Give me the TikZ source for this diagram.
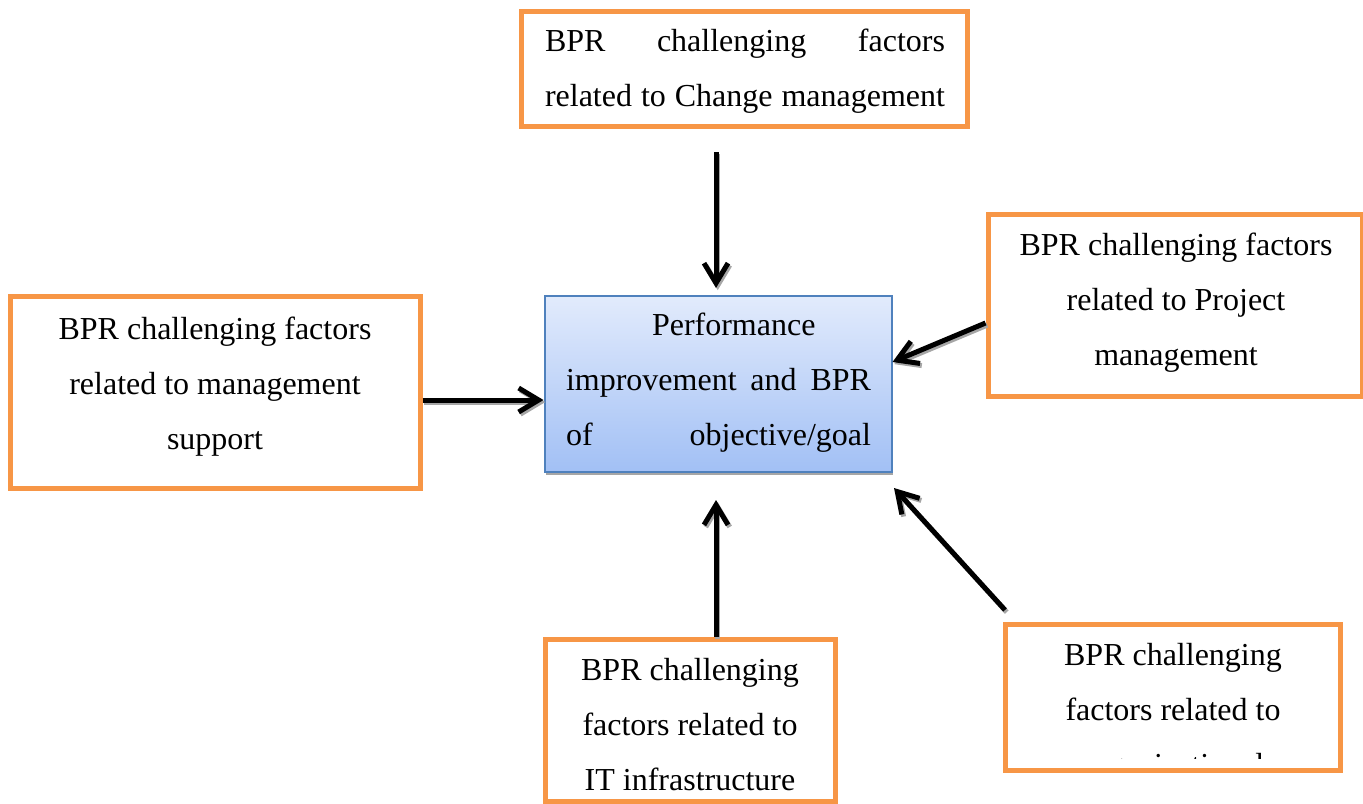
\documentclass[tikz,border=0pt]{standalone}
\usepackage{fontspec}
\setmainfont{Liberation Serif}
\usetikzlibrary{arrows.meta,fit}
\definecolor{orng}{HTML}{F79646}
\definecolor{bord}{HTML}{4F81BD}
\definecolor{ctop}{RGB}{226,235,252}
\definecolor{cbot}{RGB}{162,192,245}
\tikzset{
  obox/.style={draw=orng, line width=3.75pt, fill=white, inner sep=0pt},
  cbox/.style={draw=bord, line width=1.5pt, top color=ctop, bottom color=cbot, inner sep=0pt},
  txt/.style={anchor=base, inner sep=0pt, font=\fontsize{24pt}{41.25pt}\selectfont},
  arr/.style={line width=3.75pt, -{Straight Barb[length=15pt,width=18pt]}},
  arrshadow/.style={arr, draw=black!35, transform canvas={xshift=1.3pt,yshift=-1.6pt}},
}
\newcommand{\tbx}[2]{\parbox[t]{#1}{\centering #2}}
\begin{document}
\begin{tikzpicture}[x=0.75pt,y=-0.75pt]
\useasboundingbox (0,0) rectangle (1363,803);
% boxes
\node[obox, fit={(521,11)(967,126)}] (top) {};
\node[obox, fit={(988,214)(1362,396)}] (right) {};
\node[obox, fit={(10,296.5)(420,488)}] (left) {};
\node[obox, fit={(545,639)(835.5,801)}] (bottom) {};
\node[obox, fit={(1005.5,624.5)(1340.5,770.5)}] (bright) {};
\fill[black!35] (545.5,298.5) rectangle (893,474.5);
\node[cbox, fit={(544.5,295.5)(891.5,471.5)}] (center) {};
% texts
\node[txt] (ttop) at (745,51) {\tbx{300pt}{\makebox[\linewidth][s]{BPR challenging factors}\\\makebox[\linewidth][s]{related to Change management}}};
\node[txt] (tright) at (1176,255) {\tbx{300pt}{BPR challenging factors\\related to Project\\management}};
\node[txt] (tleft) at (215,339) {\tbx{300pt}{BPR challenging factors\\related to management\\support}};
\node[txt] (tbottom) at (690,680) {\tbx{300pt}{BPR challenging\\factors related to\\IT infrastructure}};
\node[txt] (tcenter) at (718.5,335) {\parbox[t]{228.75pt}{\hspace*{64.5pt}Performance\\\makebox[\linewidth][s]{improvement and BPR}\\\makebox[\linewidth][s]{of objective/goal}}};
\begin{scope}
\clip (1008,627) rectangle (1338,758);
\node[txt] (tbright) at (1173,665) {\tbx{300pt}{BPR challenging\\factors related to\\organizational}};
\end{scope}
% arrows
\coordinate (a1s) at (716,152);
\coordinate (a1e) at (716,288);
\coordinate (a4e) at (716,500);
\coordinate (a5s) at (1005,610);
\coordinate (a5e) at (894,488);
\draw[arrshadow] (a1s) -- (a1e);
\draw[arr] (a1s) -- (a1e);
\draw[arrshadow] (left.east |- 0,400) -- (center.west |- 0,400);
\draw[arr] (left.east |- 0,400) -- (center.west |- 0,400);
\draw[arrshadow] (right.west |- 0,323) -- (center.east |- 0,362);
\draw[arr] (right.west |- 0,323) -- (center.east |- 0,362);
\draw[arrshadow] (a4e |- bottom.north) -- (a4e);
\draw[arr] (a4e |- bottom.north) -- (a4e);
\draw[arrshadow] (a5s) -- (a5e);
\draw[arr] (a5s) -- (a5e);
\end{tikzpicture}
\end{document}
